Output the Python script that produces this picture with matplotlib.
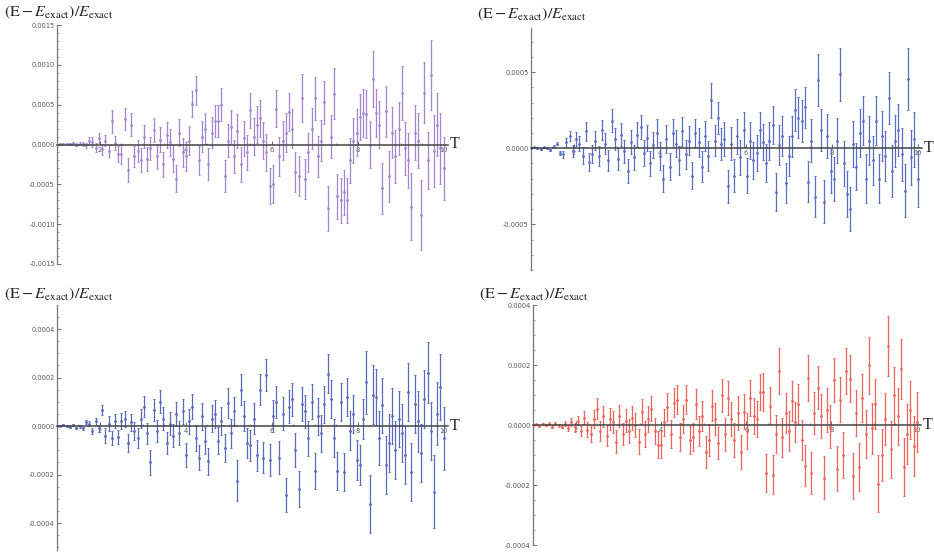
import numpy as np
import matplotlib.pyplot as plt
from matplotlib.ticker import MultipleLocator, FormatStrFormatter

# temperature grid (1 .. 10)
T = np.linspace(1.0, 10.0, 121)

# relative error values, in units of 1e-4
purple_val = [0.0, 0.05, 0.1, 0.05, 0.1, 0.15, 0.0, 0.1, 0.05, -0.1,
              0.5, 0.3, -0.4, 0.8, -0.6, 0.5, -0.8, 2.9, 0.2, -1.2,
              -1.2, 3.2, -3.2, 2.5, -1.5, -0.8, -2.0, 1.0, -1.8, -0.5,
              1.8, -1.5, 0.6, -2.5, 1.2, 0.3, -1.8, -4.3, 1.5, -1.0,
              -1.5, 0.5, 5.1, 6.8, -2.0, 1.0, 2.0, -2.5, 1.5, 3.0,
              2.9, 5.0, -4.0, 0.5, 2.2, -1.5, 1.7, -2.5, 0.8, -1.0,
              4.3, 1.0, 2.5, 3.3, 0.5, -1.0, -5.2, -5.0, 4.5, -1.5,
              0.5, 1.5, 4.1, 2.0, -3.5, -4.0, 5.8, -4.3, -1.0, 2.0,
              5.8, -1.5, 0.5, 5.3, -8.0, 1.0, 6.4, -6.5, -7.0, -6.0,
              -7.0, -2.0, 0.5, 1.5, 3.5, 4.0, 3.8, 0.0, 8.2, 4.0,
              2.5, -5.5, 4.2, -4.0, 1.5, -1.5, 2.0, 6.5, -0.5, -2.0,
              -7.8, 1.5, 0.5, -8.9, 6.5, -2.0, 8.7, -0.8, 2.5, -0.5, -3.0]
purple_err = [0.1, 0.1, 0.12, 0.12, 0.14, 0.15, 0.17, 0.2, 0.25, 0.3,
              0.5, 0.6, 0.6, 0.6, 0.7, 0.7, 0.8, 1.4, 0.9, 1.0,
              1.3, 1.4, 1.5, 1.4, 1.3, 1.4, 1.5, 1.4, 1.5, 1.5,
              1.5, 1.6, 1.6, 1.6, 1.6, 1.7, 1.7, 1.7, 1.7, 1.8,
              1.8, 1.8, 1.6, 1.8, 1.8, 1.9, 1.9, 2.0, 2.0, 2.0,
              2.0, 2.1, 2.0, 2.1, 2.1, 2.1, 2.1, 2.2, 2.2, 2.2,
              2.2, 2.3, 2.3, 2.3, 2.3, 2.3, 2.3, 2.4, 2.3, 2.4,
              2.4, 2.4, 2.4, 2.5, 2.5, 2.5, 3.0, 2.5, 2.5, 2.6,
              2.7, 2.6, 2.6, 2.7, 2.8, 2.7, 3.2, 2.8, 2.8, 2.8,
              2.8, 2.8, 2.8, 2.9, 2.9, 3.0, 3.0, 3.0, 3.5, 3.0,
              3.0, 3.2, 3.2, 3.2, 3.2, 3.3, 3.3, 3.4, 3.3, 3.4,
              4.2, 3.5, 3.5, 4.4, 3.8, 3.6, 4.4, 4.5, 4.0, 4.5, 4.0]

blue_a_val = [0.0, 0.05, 0.0, -0.05, 0.05, 0.0, -0.1, 0.1, 0.3, -0.3,
              -0.4, 0.4, 0.8, -0.2, 0.6, 0.3, -0.5, 1.1, -0.9, -0.4,
              0.5, -0.5, 1.2, 0.3, -0.8, 1.8, 0.6, -0.7, 0.9, -0.2,
              -1.5, 0.4, -0.6, 0.9, 1.4, -0.3, 0.7, -1.0, 0.2, 1.0,
              -0.5, -2.0, 0.6, -1.2, 1.0, 0.3, -0.8, 1.1, -0.4, 0.5,
              -1.8, 1.0, 0.4, -1.2, 0.8, -0.5, 3.15, 0.5, 2.0, 0.3,
              0.6, -2.5, 0.3, -1.8, 0.8, -0.6, 1.2, -1.8, 0.5, -0.8,
              -0.3, 1.2, 0.4, -1.0, 0.5, 1.5, -2.9, 0.2, 0.8, -2.3,
              -0.5, 0.8, 2.5, 2.0, 1.8, 2.7, -2.2, 0.5, -3.2, 4.5,
              1.2, -3.5, 0.8, -1.5, -2.0, 0.5, 4.85, -1.0, -3.0, -4.0,
              0.3, -1.2, 1.0, 1.8, -2.0, 0.5, -0.8, 1.8, -2.0, 0.8,
              -0.5, 3.3, -1.5, 0.5, 1.2, -0.4, -2.8, 4.55, -0.6, 0.6, -2.0]
blue_a_err = [0.05, 0.05, 0.05, 0.06, 0.06, 0.07, 0.08, 0.1, 0.12, 0.15,
              0.25, 0.3, 0.35, 0.4, 0.45, 0.5, 0.55, 0.65, 0.6, 0.6,
              0.6, 0.65, 0.65, 0.7, 0.7, 0.75, 0.7, 0.7, 0.75, 0.75,
              0.8, 0.8, 0.8, 0.8, 0.8, 0.85, 0.85, 0.85, 0.85, 0.9,
              0.9, 0.9, 0.9, 0.9, 0.9, 0.9, 0.95, 0.95, 0.95, 0.95,
              0.9, 0.95, 0.95, 1.0, 1.0, 1.0, 1.15, 1.0, 1.05, 1.05,
              1.1, 1.1, 1.1, 1.1, 1.15, 1.15, 1.15, 1.15, 1.2, 1.2,
              1.2, 1.2, 1.2, 1.25, 1.25, 1.25, 1.25, 1.3, 1.3, 1.3,
              1.3, 1.35, 1.4, 1.35, 1.4, 1.35, 1.35, 1.4, 1.35, 1.7,
              1.4, 1.4, 1.45, 1.45, 1.45, 1.5, 1.75, 1.5, 1.5, 1.45,
              1.5, 1.55, 1.55, 1.6, 1.6, 1.6, 1.6, 1.6, 1.6, 1.65,
              1.65, 1.7, 1.7, 1.7, 1.7, 1.75, 1.75, 2.05, 1.8, 1.8, 1.85]

blue_b_val = [0.0, 0.02, 0.05, 0.0, -0.05, 0.05, -0.08, 0.0, -0.1, 0.15,
              0.1, -0.2, 0.2, -0.1, 0.65, -0.4, 0.1, -0.5, 0.2, -0.45,
              0.2, 0.3, -0.7, 0.15, -0.2, -0.5, 0.3, 0.8, -0.3, -1.5,
              0.65, -0.2, 1.0, 0.3, -0.7, 0.1, -0.4, 0.5, -0.3, 0.6,
              -1.2, 0.2, 0.8, -0.5, -1.3, 0.4, -0.6, -1.45, 0.3, 0.5,
              -0.6, 0.2, -0.9, 0.95, -0.3, 0.6, -2.25, 1.5, 0.4, -0.7,
              -0.8, 0.3, -1.2, 1.5, -1.3, 2.1, -1.4, 0.4, 1.0, -1.3,
              0.5, -2.85, 0.8, 1.1, -1.0, -2.6, 0.9, 0.6, -0.5, 1.0,
              -1.85, 0.4, -0.3, 0.9, 2.15, 1.1, -0.5, -1.85, 1.0, -1.9,
              1.2, -0.2, 0.5, -1.4, -1.6, 0.3, 1.8, -3.2, 1.3, 1.2,
              -0.5, 0.85, -1.6, -0.7, 0.4, -1.0, 0.3, -0.3, -1.2, 1.4,
              -1.9, 0.9, 0.2, -1.1, 1.1, 2.2, -0.2, -2.7, 0.5, 1.6, -0.5]
blue_b_err = [0.03, 0.03, 0.04, 0.04, 0.05, 0.05, 0.06, 0.06, 0.07, 0.08,
              0.1, 0.12, 0.14, 0.15, 0.2, 0.3, 0.3, 0.3, 0.3, 0.3,
              0.32, 0.34, 0.36, 0.36, 0.38, 0.4, 0.4, 0.42, 0.42, 0.5,
              0.45, 0.45, 0.47, 0.47, 0.47, 0.48, 0.48, 0.5, 0.5, 0.5,
              0.5, 0.52, 0.53, 0.53, 0.53, 0.55, 0.55, 0.55, 0.56, 0.56,
              0.57, 0.58, 0.58, 0.6, 0.6, 0.6, 0.85, 0.65, 0.62, 0.62,
              0.63, 0.63, 0.64, 0.65, 0.65, 0.65, 0.66, 0.66, 0.67, 0.67,
              0.68, 0.7, 0.68, 0.69, 0.7, 0.74, 0.7, 0.7, 0.72, 0.72,
              0.74, 0.75, 0.75, 0.76, 0.8, 0.78, 0.78, 0.78, 0.78, 0.78,
              0.8, 0.8, 0.8, 0.82, 0.82, 0.82, 1.3, 1.2, 1.2, 1.15,
              1.1, 1.15, 1.2, 1.2, 1.15, 1.2, 1.15, 1.2, 1.2, 1.2,
              1.2, 1.2, 1.25, 1.2, 1.2, 1.25, 1.2, 1.5, 1.3, 1.35, 1.3]

red_val = [0.0, 0.02, -0.02, 0.03, 0.0, 0.05, -0.05, 0.04, 0.0, -0.05,
           0.05, -0.1, 0.1, -0.08, 0.15, -0.2, 0.25, -0.15, -0.3, 0.2,
           0.55, -0.2, 0.3, -0.35, 0.2, 0.1, -0.55, 0.3, -0.3, 0.15,
           -0.2, 0.25, 0.0, -0.55, 0.45, -0.3, 0.2, 0.55, -0.2, -0.65,
           -0.65, 0.1, 0.6, -0.3, 0.75, 0.85, -0.4, 0.2, 0.85, -0.5,
           -0.4, 0.7, -0.2, 0.3, -0.9, -0.5, 0.65, 0.2, -0.6, 1.0,
           -0.3, 0.9, 0.2, -0.5, 0.4, -0.9, 0.45, -0.2, 0.9, 0.3,
           0.2, 1.1, 1.1, -1.6, 0.65, -1.65, -0.3, 1.8, -0.4, 0.4,
           -0.2, 0.8, 0.1, 0.7, -0.5, -1.35, 1.56, -1.6, 0.4, 1.25,
           0.3, -1.75, 0.5, -0.05, 1.5, -1.45, 0.85, -1.0, 1.8, 1.55,
           -1.7, 0.4, -1.4, 0.9, -0.3, 2.0, -0.1, 0.7, -1.95, -1.0,
           0.2, 2.63, -0.8, 1.0, 0.3, 1.87, -1.4, -0.3, 0.5, -0.7, 0.1]
red_err = [0.02, 0.02, 0.03, 0.03, 0.03, 0.04, 0.04, 0.05, 0.05, 0.06,
           0.08, 0.1, 0.12, 0.14, 0.16, 0.18, 0.22, 0.25, 0.28, 0.3,
           0.35, 0.33, 0.35, 0.35, 0.36, 0.37, 0.37, 0.38, 0.38, 0.38,
           0.39, 0.4, 0.4, 0.42, 0.42, 0.42, 0.43, 0.43, 0.43, 0.44,
           0.45, 0.45, 0.46, 0.46, 0.47, 0.47, 0.47, 0.48, 0.48, 0.48,
           0.48, 0.49, 0.5, 0.5, 0.52, 0.52, 0.53, 0.53, 0.54, 0.55,
           0.55, 0.56, 0.56, 0.57, 0.57, 0.58, 0.58, 0.59, 0.59, 0.6,
           0.6, 0.6, 0.62, 0.63, 0.63, 0.66, 0.64, 0.78, 0.65, 0.66,
           0.66, 0.67, 0.68, 0.68, 0.68, 0.68, 0.76, 0.7, 0.7, 0.72,
           0.72, 0.72, 0.73, 0.72, 0.74, 0.74, 0.74, 0.76, 0.78, 0.77,
           0.78, 0.78, 0.8, 0.8, 0.8, 0.95, 0.85, 0.82, 0.95, 0.88,
           0.88, 1.0, 0.95, 0.95, 0.95, 1.0, 0.97, 1.0, 0.98, 1.0, 1.0]

ylabel = r"$(\mathrm{E}-E_{\mathrm{exact}})/E_{\mathrm{exact}}$"

plt.rcParams["mathtext.fontset"] = "stix"
plt.rcParams["font.family"] = "DejaVu Sans"

W, H = 934, 553
fig = plt.figure(figsize=(W / 100, H / 100), dpi=100)


def add_panel(left, right, top, bottom, ylim, vals, errs, color,
              ymajor, yminor, label_xy):
    ax = fig.add_axes([left / W, 1 - bottom / H, (right - left) / W, (bottom - top) / H])
    ax.errorbar(T, np.array(vals) * 1e-4, yerr=np.array(errs) * 1e-4,
                fmt="o", color=color, markersize=1.0, elinewidth=0.9,
                capsize=1.0, capthick=0.7, zorder=3)
    ax.set_xlim(1.0, 10.1)
    ax.set_ylim(*ylim)
    for s in ("top", "right"):
        ax.spines[s].set_visible(False)
    ax.spines["bottom"].set_position(("data", 0.0))
    ax.spines["bottom"].set_color("#444444")
    ax.spines["bottom"].set_linewidth(1.1)
    ax.spines["bottom"].set_zorder(4)
    ax.spines["left"].set_color("#777777")
    ax.spines["left"].set_linewidth(0.9)
    ax.xaxis.set_major_locator(MultipleLocator(2))
    ax.xaxis.set_minor_locator(MultipleLocator(0.5))
    ax.yaxis.set_major_locator(MultipleLocator(ymajor))
    ax.yaxis.set_minor_locator(MultipleLocator(yminor))
    ax.yaxis.set_major_formatter(FormatStrFormatter("%.4f"))
    ax.set_xticks([2, 4, 6, 8, 10])
    ax.tick_params(which="major", direction="in", length=3, width=0.6,
                   labelsize=4.8, colors="#555555", pad=1.5)
    ax.tick_params(which="minor", direction="in", length=1.6, width=0.5,
                   colors="#777777")
    ax.patch.set_alpha(0)
    fig.text(label_xy[0] / W, 1 - label_xy[1] / H, ylabel, fontsize=11.5,
             color="#222222", va="top", ha="left")
    fig.text((right + 2) / W, 1 - (top + (bottom - top) * ylim[1] / (ylim[1] - ylim[0])) / H,
             "T", fontsize=11.5, family="Liberation Serif", color="#222222",
             va="center", ha="left")
    return ax


add_panel(57, 448, 25, 264, (-0.0015, 0.0015), purple_val, purple_err,
          "#a186d2", 0.0005, 0.0001, (4, 4))
add_panel(531, 922, 28, 270, (-0.0008, 0.00079), blue_a_val, blue_a_err,
          "#5a6ec4", 0.0005, 0.0001, (477, 6))
add_panel(57, 448, 305, 550, (-0.000511, 0.000499), blue_b_val, blue_b_err,
          "#5869bf", 0.0002, 0.00005, (4, 286))
add_panel(533, 921, 305, 545, (-0.0004, 0.0004), red_val, red_err,
          "#ef6458", 0.0002, 0.00005, (479, 286))

fig.savefig("out.png", dpi=100, facecolor="white")
